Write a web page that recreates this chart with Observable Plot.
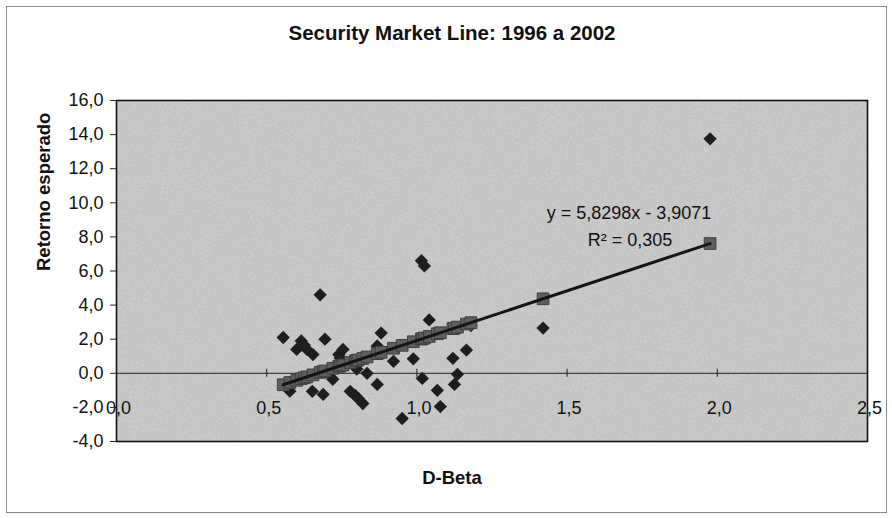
<!DOCTYPE html>
<html>
<head>
<meta charset="utf-8">
<script src="https://cdn.jsdelivr.net/npm/d3@7"></script>
<script src="https://cdn.jsdelivr.net/npm/@observablehq/plot@0.6"></script>
<style>
  html, body { margin: 0; padding: 0; background: #fff; }
  #wrap { position: relative; width: 892px; height: 518px; overflow: hidden; }
  #border { position: absolute; left: 6px; top: 6px; width: 879px; height: 505px; border: 1px solid #8a8a8a; pointer-events: none; }
  #chart { position: absolute; left: 0; top: 0; }
</style>
</head>
<body>
<div id="wrap"><div id="chart"></div><div id="border"></div></div>
<script>
// Observed points (D-Beta, expected return)
const betas   = [0.555, 0.577, 0.600, 0.615, 0.634, 0.654, 0.652, 0.678, 0.688, 0.694,
                 0.720, 0.745, 0.754, 0.778, 0.795, 0.804, 0.820, 0.834, 0.868, 0.868,
                 0.881, 0.922, 0.951, 0.988, 1.015, 1.025, 1.018, 1.041, 1.068, 1.078,
                 1.120, 1.125, 1.135, 1.165, 1.180, 1.420, 1.976, 0.740, 0.800, 0.625];
const returns = [2.1, -1.05, 1.4, 1.9, 1.4, 1.1, -1.06, 4.6, -1.24, 2.0,
                 -0.35, 0.9, 1.4, -1.06, -1.3, -1.47, -1.77, 0.0, -0.65, 1.6,
                 2.36, 0.7, -2.65, 0.85, 6.6, 6.3, -0.3, 3.13, -1.0, -1.95,
                 0.88, -0.65, -0.06, 1.36, 2.8, 2.65, 13.75, 1.1, 0.25, 1.65];
// Fitted (predicted) series, square markers
const fittedBeta   = [0.555, 0.577, 0.600, 0.615, 0.625, 0.634, 0.654, 0.678, 0.688, 0.694, 0.720,
                      0.740, 0.745, 0.754, 0.778, 0.795, 0.800, 0.804, 0.820, 0.834, 0.868, 0.881, 0.922,
                      0.951, 0.988, 1.015, 1.018, 1.025, 1.041, 1.068, 1.078, 1.120, 1.125,
                      1.135, 1.165, 1.180, 1.420, 1.976];
const fittedReturn = [-0.67, -0.54, -0.41, -0.32, -0.26, -0.21, -0.09, 0.05, 0.10, 0.14, 0.29,
                      0.41, 0.44, 0.49, 0.63, 0.73, 0.76, 0.78, 0.87, 0.96, 1.15, 1.23, 1.47,
                      1.64, 1.85, 2.01, 2.03, 2.07, 2.16, 2.32, 2.38, 2.62, 2.65,
                      2.71, 2.89, 2.97, 4.37, 7.61];
// Trendline end points
const trendBeta   = [0.555, 1.976];
const trendReturn = [-0.67, 7.61];
const equationText = "y = 5,8298x - 3,9071";
const r2Text = "R² = 0,305";
const titleText = "Security Market Line: 1996 a 2002";
const xLabel = "D-Beta";
const yLabel = "Retorno esperado";
const xTicks = [0, 0.5, 1.0, 1.5, 2.0, 2.5];
const yTicks = [-4, -2, 0, 2, 4, 6, 8, 10, 12, 14, 16];

const fmt = d => d.toFixed(1).replace(".", ",");
const points = betas.map((b, i) => ({b, r: returns[i]}));
const fitted = fittedBeta.map((b, i) => ({b, r: fittedReturn[i]}));
const trend = trendBeta.map((b, i) => ({b, r: trendReturn[i]}));
const F = "Liberation Sans, Arial, Helvetica, sans-serif";

const chart = Plot.plot({
  width: 892,
  height: 518,
  marginLeft: 116,
  marginRight: 25,
  marginTop: 100,
  marginBottom: 77,
  style: {fontFamily: F, fontSize: "18px", color: "#111", background: "transparent"},
  x: {domain: [0, 2.5], axis: null},
  y: {domain: [-4, 16], axis: null},
  marks: [
    Plot.frame({fill: "#cfcfcf", stroke: "none"}),
    Plot.frame({fill: "url(#grain)", stroke: "none"}),
    Plot.ruleY([0], {stroke: "#222", strokeWidth: 1}),
    Plot.ruleX(xTicks, {x: d => d, y1: 0, y2: 0, insetTop: -4, insetBottom: -4, stroke: "#222", strokeWidth: 1}),
    Plot.text(xTicks, {x: d => d, y: 0, text: d => fmt(d), dy: 35, dx: 2, lineAnchor: "middle", fontSize: 18, fill: "#111"}),
    Plot.axisY(yTicks, {tickSize: 6, tickPadding: 7, tickFormat: fmt, fontSize: 18, stroke: "#222", fill: "#111", label: null}),
    Plot.dot(points, {x: "b", y: "r", symbol: "diamond2", r: 6, fill: "#1e1e1e", stroke: "none"}),
    Plot.dot(fitted, {x: "b", y: "r", symbol: "square", r: 6.6, fill: "#5e5e5e", stroke: "#404040", strokeWidth: 1}),
    Plot.line(trend, {x: "b", y: "r", stroke: "#151515", strokeWidth: 3}),
    Plot.frame({stroke: "#111", strokeWidth: 1.6}),
    Plot.text([equationText], {frameAnchor: "top", dx: 137, dy: 113, fontSize: 18, fill: "#111", lineAnchor: "middle"}),
    Plot.text([r2Text], {frameAnchor: "top", dx: 138, dy: 140, fontSize: 18, fill: "#111", lineAnchor: "middle"}),
    Plot.text([titleText], {frameAnchor: "top", dx: -40, dy: -67, fontSize: 20.5, fontWeight: "bold", fill: "#111", lineAnchor: "middle"}),
    Plot.text([xLabel], {frameAnchor: "bottom", dx: -40, dy: 37, fontSize: 18.5, fontWeight: "bold", fill: "#111", lineAnchor: "middle"}),
    Plot.text([yLabel], {frameAnchor: "left", dx: -72, rotate: -90, fontSize: 18.5, fontWeight: "bold", fill: "#111", lineAnchor: "middle"})
  ]
});
// subtle grain texture for the plot area background
const ns = "http://www.w3.org/2000/svg";
const defs = document.createElementNS(ns, "defs");
defs.innerHTML =
  '<filter id="grainf" x="0" y="0" width="100%" height="100%">' +
  '<feTurbulence type="fractalNoise" baseFrequency="0.85" numOctaves="2" seed="3" result="n"/>' +
  '<feColorMatrix type="matrix" values="0 0 0 0 0  0 0 0 0 0  0 0 0 0 0  0 0 0 -1.1 0.75"/>' +
  '</filter>' +
  '<pattern id="grain" patternUnits="userSpaceOnUse" width="892" height="518">' +
  '<rect width="892" height="518" filter="url(#grainf)" opacity="0.2"/></pattern>';
chart.insertBefore(defs, chart.firstChild);
document.getElementById("chart").appendChild(chart);
</script>
</body>
</html>
